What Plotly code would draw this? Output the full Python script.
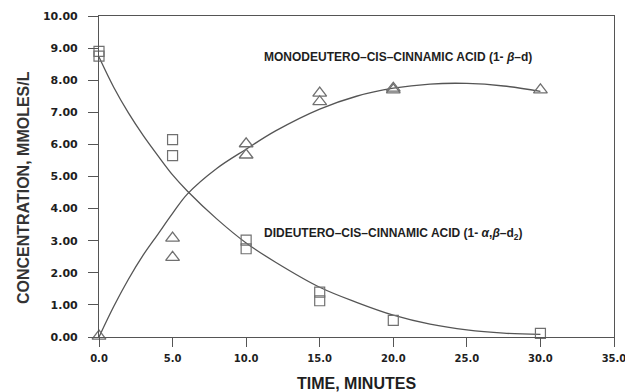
import plotly.graph_objects as go

# Measured data points (time in minutes, concentration mmoles/L)
di_time = [0, 0, 5, 5, 10, 10, 15, 15, 20, 30]
di_conc = [8.90, 8.75, 6.15, 5.65, 3.02, 2.75, 1.40, 1.13, 0.52, 0.11]

mono_time = [0, 5, 5, 10, 10, 15, 15, 20, 20, 30]
mono_conc = [0.03, 3.08, 2.48, 6.02, 5.67, 7.60, 7.33, 7.75, 7.70, 7.70]

# Fitted curves
curve_time = [0, 1, 2, 3, 4, 5, 6, 8, 10, 12, 15, 17.5, 20, 22.5, 25, 27.5, 30]
di_curve = [8.72, 7.78, 6.98, 6.28, 5.65, 5.05, 4.55, 3.68, 2.93, 2.33, 1.55, 1.08, 0.68, 0.40, 0.22, 0.12, 0.08]
mono_curve = [0.0, 0.95, 1.80, 2.55, 3.20, 3.85, 4.45, 5.25, 5.85, 6.42, 7.10, 7.50, 7.75, 7.88, 7.90, 7.82, 7.65]

x_ticks = [0, 5, 10, 15, 20, 25, 30, 35]
y_ticks = [0, 1, 2, 3, 4, 5, 6, 7, 8, 9, 10]

mono_label = "<b>MONODEUTERO–CIS–CINNAMIC ACID (1- <i>β</i>–d)</b>"
di_label = "<b>DIDEUTERO–CIS–CINNAMIC ACID (1- <i>α</i>,<i>β</i>–d<sub>2</sub>)</b>"
y_title = "<b>CONCENTRATION, MMOLES/L</b>"
x_title = "<b>TIME, MINUTES</b>"

line_col = "#555555"
mark_col = "#707070"
text_col = "#1e1e1e"

fig = go.Figure()
fig.add_trace(go.Scatter(x=curve_time, y=di_curve, mode="lines", line=dict(color=line_col, width=1.3, shape="spline"),
                         cliponaxis=False, showlegend=False, hoverinfo="skip"))
fig.add_trace(go.Scatter(x=curve_time, y=mono_curve, mode="lines", line=dict(color=line_col, width=1.3, shape="spline"),
                         cliponaxis=False, showlegend=False, hoverinfo="skip"))
fig.add_trace(go.Scatter(x=di_time, y=di_conc, mode="markers", cliponaxis=False, showlegend=False,
                         marker=dict(symbol="square-open", size=10, color=mark_col, line=dict(width=1.2, color=mark_col))))
fig.add_trace(go.Scatter(x=mono_time, y=mono_conc, mode="markers", cliponaxis=False, showlegend=False,
                         marker=dict(symbol="triangle-up-open", size=12, color=mark_col, line=dict(width=1.3, color=mark_col))))

fig.add_annotation(x=11.1, y=8.72, xref="x", yref="y", text=mono_label, showarrow=False, xanchor="left", yanchor="middle",
                   font=dict(family="Liberation Sans", size=12, color=text_col))
fig.add_annotation(x=11.1, y=3.22, xref="x", yref="y", text=di_label, showarrow=False, xanchor="left", yanchor="middle",
                   font=dict(family="Liberation Sans", size=12, color=text_col))
fig.add_annotation(x=-0.1476, y=0.467, xref="paper", yref="paper", text=y_title, showarrow=False, textangle=-90,
                   xanchor="center", yanchor="middle", font=dict(family="Liberation Sans", size=16, color="#333333"))

# The page body adds an 8px offset; figure size and margins compensate for it
fig.update_layout(
    width=625, height=384,
    margin=dict(l=91, r=19, t=8, b=55),
    paper_bgcolor="white", plot_bgcolor="white",
    font=dict(family="DejaVu Sans", color=text_col),
    xaxis=dict(range=[0, 35], tickvals=x_ticks, ticktext=[f"{v:.1f}" for v in x_ticks], automargin=False,
               showgrid=False, zeroline=False, showline=True, mirror=True, linecolor=line_col, linewidth=1.2,
               ticks="outside", ticklen=9, tickwidth=1, tickcolor=line_col, ticklabelstandoff=3,
               tickfont=dict(family="DejaVu Sans", size=10, weight="bold", color=text_col),
               title=dict(text=x_title, standoff=30,
                          font=dict(family="Liberation Sans", size=16, color=text_col))),
    yaxis=dict(range=[0, 10], tickvals=y_ticks, ticktext=[f"{v:.2f}" for v in y_ticks], automargin=False,
               showgrid=False, zeroline=False, showline=True, mirror=True, linecolor=line_col, linewidth=1.2,
               ticks="outside", ticklen=10, tickwidth=1, tickcolor=line_col, ticklabelstandoff=8,
               tickfont=dict(family="DejaVu Sans", size=11, weight="bold", color=text_col)),
)

fig.write_html("out.html")
